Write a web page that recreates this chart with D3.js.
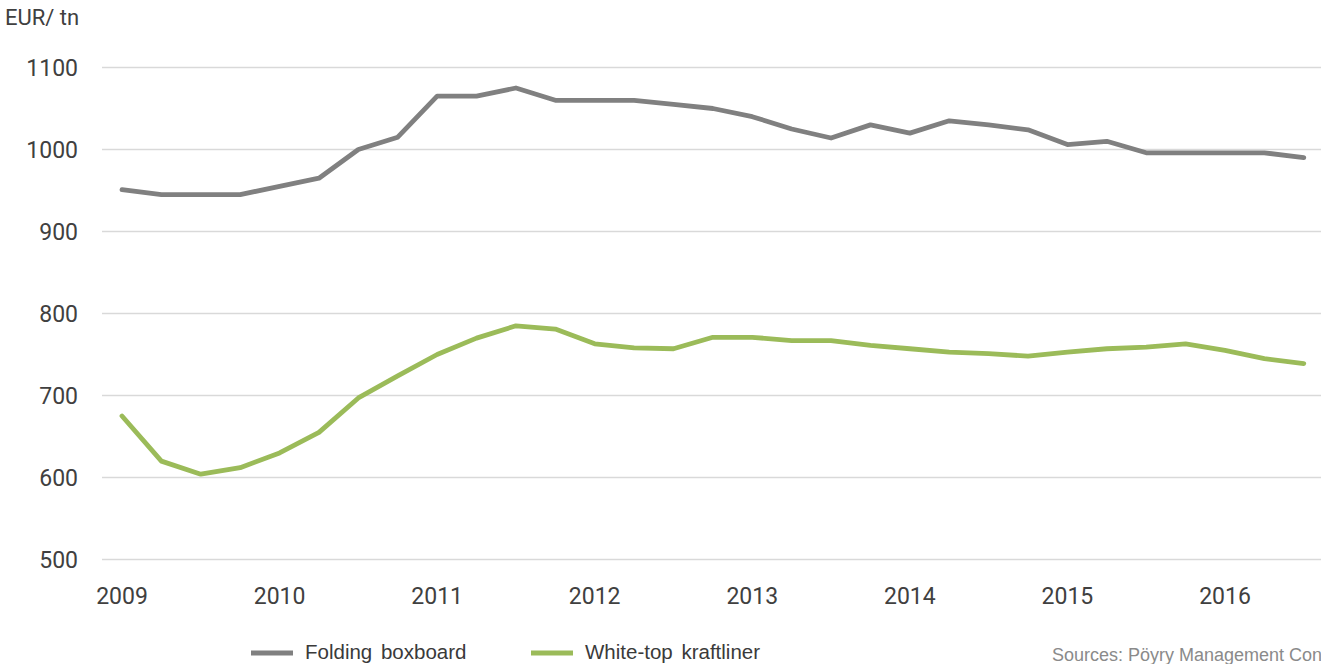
<!DOCTYPE html>
<html>
<head>
<meta charset="utf-8">
<script src="https://cdn.jsdelivr.net/npm/d3@7"></script>
<style>
  body { margin: 0; background: #fff; overflow: hidden; }
  svg { display: block; }
</style>
</head>
<body>
<div id="chart"></div>
<script>
// quarterly points from 2009 Q1
var quarters = d3.range(0, 31).map(function (i) { return 2009 + i * 0.25; });
var foldingBoxboard = [951, 945, 945, 945, 955, 965, 1000, 1015, 1065, 1065, 1075,
                       1060, 1060, 1060, 1055, 1050, 1040, 1025, 1014, 1030, 1020,
                       1035, 1030, 1024, 1006, 1010, 996, 996, 996, 996, 990];
var whiteTop = [675, 620, 604, 612, 630, 655, 697, 724, 750, 770, 785,
                781, 763, 758, 757, 771, 771, 767, 767, 761, 757,
                753, 751, 748, 753, 757, 759, 763, 755, 745, 739];
var yTicks = [500, 600, 700, 800, 900, 1000, 1100];
var xTicks = [2009, 2010, 2011, 2012, 2013, 2014, 2015, 2016];
var seriesNames = ["Folding boxboard", "White-top kraftliner"];

var W = 1321, H = 664;
var svg = d3.select("#chart").append("svg")
  .attr("width", W).attr("height", H);

var x = d3.scaleLinear().domain([2009, 2016]).range([122, 1225]);
var y = d3.scaleLinear().domain([500, 1100]).range([559.5, 67.5]);

// gridlines
svg.append("g").selectAll("line")
  .data(yTicks).enter().append("line")
  .attr("x1", 102).attr("x2", W)
  .attr("y1", function (d) { return y(d); })
  .attr("y2", function (d) { return y(d); })
  .attr("stroke", "#d9d9d9").attr("stroke-width", 1.3);

// y labels
svg.append("g").selectAll("text")
  .data(yTicks).enter().append("text")
  .attr("x", 78).attr("y", function (d) { return y(d); })
  .attr("dy", "0.36em")
  .attr("text-anchor", "end")
  .attr("font-family", "Roboto, sans-serif").attr("font-size", 23)
  .attr("fill", "#404040")
  .text(function (d) { return d; });

// x labels
svg.append("g").selectAll("text")
  .data(xTicks).enter().append("text")
  .attr("x", function (d) { return x(d); }).attr("y", 604)
  .attr("text-anchor", "middle")
  .attr("font-family", "Roboto, sans-serif").attr("font-size", 23)
  .attr("fill", "#404040")
  .text(function (d) { return d; });

svg.append("text")
  .attr("x", 5).attr("y", 25)
  .attr("font-family", "Roboto, sans-serif").attr("font-size", 22)
  .attr("fill", "#404040")
  .text("EUR/ tn");

var line = d3.line()
  .x(function (d, i) { return x(quarters[i]); })
  .y(function (d) { return y(d); });

var colors = ["#808080", "#9bbb59"];
[foldingBoxboard, whiteTop].forEach(function (s, k) {
  svg.append("path")
    .datum(s)
    .attr("d", line)
    .attr("fill", "none")
    .attr("stroke", colors[k])
    .attr("stroke-width", 4.8)
    .attr("stroke-linejoin", "round")
    .attr("stroke-linecap", "round");
});

// legend
var legX = [251, 531];
seriesNames.forEach(function (n, k) {
  svg.append("line")
    .attr("x1", legX[k]).attr("x2", legX[k] + 42)
    .attr("y1", 653).attr("y2", 653)
    .attr("stroke", colors[k]).attr("stroke-width", 5);
  svg.append("text")
    .attr("x", legX[k] + 54).attr("y", 659)
    .attr("font-family", "'Liberation Sans', Arial, sans-serif").attr("font-size", 20.5)
    .attr("fill", "#3a3a3a")
    .attr("word-spacing", 3)
    .text(n);
});

svg.append("text")
  .attr("x", 1052).attr("y", 661)
  .attr("font-family", "'Liberation Sans', Arial, sans-serif").attr("font-size", 18)
  .attr("fill", "#8a8a8a")
  .text("Sources: Pöyry Management Consulting");
</script>
</body>
</html>
